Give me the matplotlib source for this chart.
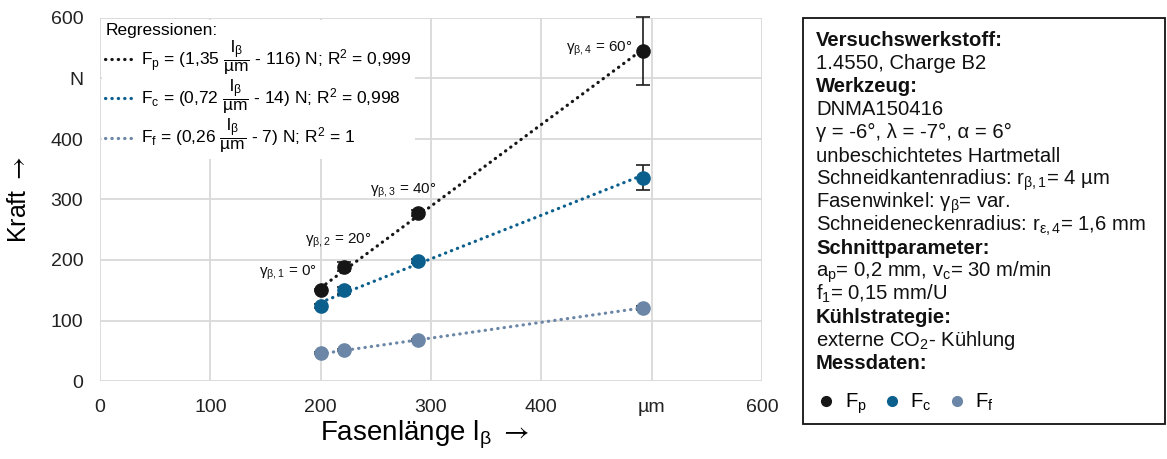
import matplotlib
matplotlib.use("Agg")
import matplotlib.pyplot as plt
from matplotlib.lines import Line2D
from matplotlib.patches import Rectangle
import numpy as np

plt.rcParams["font.family"] = ["Liberation Sans", "DejaVu Sans"]
plt.rcParams["mathtext.fontset"] = "custom"
plt.rcParams["mathtext.rm"] = "Liberation Sans"
plt.rcParams["mathtext.it"] = "Liberation Sans:italic"
plt.rcParams["mathtext.bf"] = "Liberation Sans:bold"
plt.rcParams["mathtext.sf"] = "STIXGeneral"
plt.rcParams["mathtext.default"] = "regular"

# ---- measured data -------------------------------------------------------
chamfer_len = [200, 221, 288, 492]          # Fasenlänge l_beta in µm
chamfer_angle = [0, 20, 40, 60]              # Fasenwinkel gamma_beta in °

Fp = [150, 189, 277, 545]
Fp_err = [2, 8, 5, 56]
Fc = [124, 150, 198, 336]
Fc_err = [3, 6, 3, 21]
Ff = [46, 51, 68, 121]
Ff_err = [2, 2, 2, 3]

# linear regressions: (slope, intercept, R^2)
reg_Fp = (1.35, -116, "0,999")
reg_Fc = (0.72, -14, "0,998")
reg_Ff = (0.26, -7, "1")

x_ticks = [0, 100, 200, 300, 400, 500, 600]
x_ticklabels = ["0", "100", "200", "300", "400", "µm", "600"]
y_ticks = [0, 100, 200, 300, 400, 500, 600]
y_ticklabels = ["0", "100", "200", "300", "400", "N", "600"]

col_p = "#161616"
col_c = "#0b5f8d"
col_f = "#6b86a6"

# ---- figure --------------------------------------------------------------
W, H = 1167, 459
fig = plt.figure(figsize=(W / 100, H / 100), dpi=100)

def fx(px):
    return px / W

def fy(py):
    return 1 - py / H

ax = fig.add_axes([fx(100), fy(381), (762 - 100) / W, (381 - 18) / H])
ax.set_xlim(0, 600)
ax.set_ylim(0, 600)
ax.set_xticks(x_ticks)
ax.set_xticklabels(x_ticklabels)
ax.set_yticks(y_ticks)
ax.set_yticklabels(y_ticklabels)
ax.tick_params(length=0, labelsize=14, colors="#222222")
ax.tick_params(axis="x", pad=13)
ax.tick_params(axis="y", pad=12)
for s in ax.spines.values():
    s.set_visible(False)
ax.grid(True, color="#d9d9d9", lw=1.3, zorder=0)
ax.set_axisbelow(True)

dot = (0, (0.1, 1.9))
series = [
    ("p", Fp, Fp_err, reg_Fp, col_p),
    ("c", Fc, Fc_err, reg_Fc, col_c),
    ("f", Ff, Ff_err, reg_Ff, col_f),
]
reg_handles = []
reg_labels = []
x_arr = np.array(chamfer_len, dtype=float)
for sub, vals, err, (m, b, r2), col in series:
    xl = np.array([x_arr.min(), x_arr.max()])
    ln, = ax.plot(xl, m * xl + b, linestyle=dot, lw=2.3, color=col,
                  dash_capstyle="round", zorder=2)
    eb = ax.errorbar(chamfer_len, vals, yerr=err, fmt="o", ms=9.5, color=col,
                     ecolor="#1e1e1e", elinewidth=1.2, capsize=5, capthick=1.2,
                     zorder=3)
    for art in eb.lines[1] + eb.lines[2]:
        art.set_clip_on(False)
    reg_handles.append(ln)
    sign = "-" if b < 0 else "+"
    reg_labels.append(
        r"F$_{%s}$ = (%s $\dfrac{l_{β}}{µm}$ %s %d) N; R$^{2}$ = %s"
        % (sub, f"{m:.2f}".replace(".", ","), sign, abs(b), r2)
    )

leg = ax.legend(reg_handles, reg_labels, title="Regressionen:", loc="upper left",
                bbox_to_anchor=(0.0, 1.0), borderaxespad=0.1, fontsize=12.5,
                title_fontsize=12.5, alignment="left", handlelength=1.75,
                handletextpad=0.3, labelspacing=0.05, frameon=True,
                fancybox=False, framealpha=1.0, edgecolor="none",
                facecolor="white", borderpad=0.2)
leg.set_zorder(5)

# chamfer angle annotations on the F_p points
offsets = [(-4, 17, "right"), (-6, 26, "center"), (-15, 23, "center"), (-10, 2, "right")]
for i, (xv, yv) in enumerate(zip(chamfer_len, Fp)):
    dx, dy, ha = offsets[i]
    ax.annotate(r"$γ_{β,%d}$ = %d°" % (i + 1, chamfer_angle[i]), (xv, yv),
                xytext=(dx, dy), textcoords="offset pixels", ha=ha, va="center",
                fontsize=11, color="#111111",
                family=["Liberation Sans Narrow", "Liberation Sans", "DejaVu Sans"],
                zorder=4)

arrow = r"$\mathsf{\rightarrow}$"
ax.set_ylabel("Kraft " + arrow, fontsize=18)
ax.yaxis.set_label_coords(-0.104, 0.5)
ax.set_xlabel(r"Fasenlänge l$_{β}$ " + arrow, fontsize=20, va="top")
ax.xaxis.set_label_coords(0.49, -0.105)

# ---- info box --------------------------------------------------------------
fig.patches.append(Rectangle((fx(803), fy(424)), (1165 - 803) / W, (424 - 18) / H,
                             transform=fig.transFigure, fill=False,
                             edgecolor="#111111", lw=1.3))
info_lines = [
    ("Versuchswerkstoff:", True),
    ("1.4550, Charge B2", False),
    ("Werkzeug:", True),
    ("DNMA150416", False),
    ("γ = -6°, λ = -7°, α = 6°", False),
    ("unbeschichtetes Hartmetall", False),
    (r"Schneidkantenradius: r$_{β,1}$= 4 µm", False),
    (r"Fasenwinkel: $γ_{β}$= var.", False),
    (r"Schneideneckenradius: r$_{ε,4}$= 1,6 mm", False),
    ("Schnittparameter:", True),
    (r"a$_{p}$= 0,2 mm, v$_{c}$= 30 m/min", False),
    (r"f$_{1}$= 0,15 mm/U", False),
    ("Kühlstrategie:", True),
    (r"externe CO$_{2}$- Kühlung", False),
    ("Messdaten:", True),
]
for i, (txt, bold) in enumerate(info_lines):
    fig.text(fx(816), fy(46 + 23.1 * i), txt, fontsize=14.6,
             fontweight="bold" if bold else "normal", va="baseline",
             ha="left", color="#111111")

marker_handles = [Line2D([], [], ls="none", marker="o", ms=7, color=c)
                  for c in (col_p, col_c, col_f)]
fig.legend(marker_handles, [r"F$_{p}$", r"F$_{c}$", r"F$_{f}$"],
           loc="center left", bbox_to_anchor=(fx(800), fy(404)), ncol=3,
           frameon=False, fontsize=14.6, handlelength=0.8, handletextpad=0.5,
           columnspacing=0.85)

fig.savefig("out.png", dpi=100)
